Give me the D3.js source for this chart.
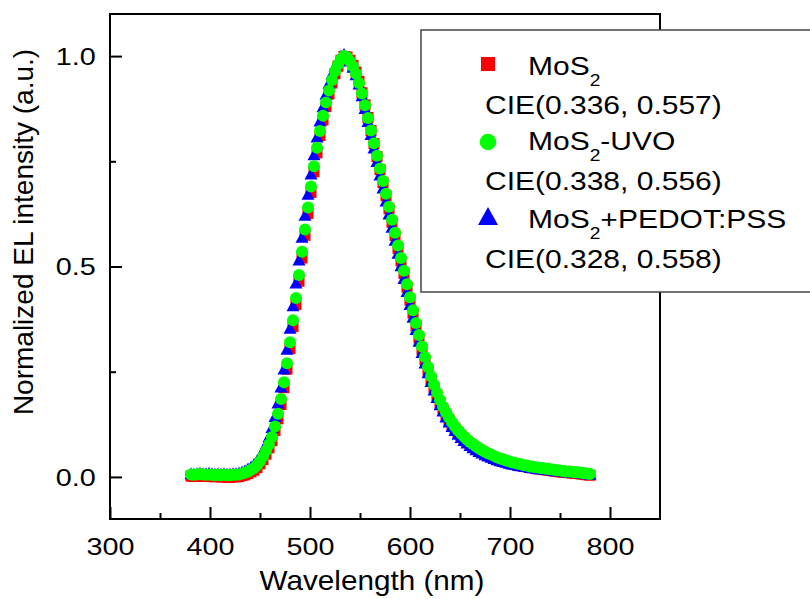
<!DOCTYPE html>
<meta charset="utf-8">
<script src="https://d3js.org/d3.v7.min.js"></script>
<style>
  body { margin: 0; background: #fff; }
  text { font-family: Arial, "Liberation Sans", sans-serif; fill: #000; }
</style>
<div id="chart"></div>
<script>

// wavelength (nm), sampled every 3 nm
var wavelength = [381, 384, 387, 390, 393, 396, 399, 402, 405, 408, 411, 414, 417, 420, 423, 426, 429, 432, 435, 438,
  441, 444, 447, 450, 453, 456, 459, 462, 465, 468, 471, 474, 477, 480, 483, 486, 489, 492, 495, 498,
  501, 504, 507, 510, 513, 516, 519, 522, 525, 528, 531, 534, 537, 540, 543, 546, 549, 552, 555, 558,
  561, 564, 567, 570, 573, 576, 579, 582, 585, 588, 591, 594, 597, 600, 603, 606, 609, 612, 615, 618,
  621, 624, 627, 630, 633, 636, 639, 642, 645, 648, 651, 654, 657, 660, 663, 666, 669, 672, 675, 678,
  681, 684, 687, 690, 693, 696, 699, 702, 705, 708, 711, 714, 717, 720, 723, 726, 729, 732, 735, 738,
  741, 744, 747, 750, 753, 756, 759, 762, 765, 768, 771, 774, 777, 780];

// MoS2
var mos2 = [.002, .001, .002, .002, .001, .001, .002, .001, .000, .001, .000, .000, -.001, -.001, .000, .000, .001, .003, .005, .008,
  .012, .016, .022, .031, .041, .054, .069, .086, .110, .138, .172, .212, .256, .305, .357, .410, .465, .520, .574, .626,
  .676, .725, .770, .811, .848, .880, .910, .936, .958, .976, .990, .999, .998, .990, .978, .962, .940, .913, .884, .854,
  .823, .792, .761, .730, .699, .668, .637, .605, .574, .543, .513, .483, .451, .420, .389, .359, .330, .303, .278, .254,
  .232, .212, .194, .177, .161, .147, .135, .124, .115, .106, .098, .091, .084, .078, .073, .068, .064, .060, .056, .052,
  .049, .046, .043, .041, .038, .036, .034, .032, .030, .028, .027, .025, .024, .023, .022, .020, .019, .018, .017, .016,
  .015, .014, .013, .012, .011, .011, .010, .009, .008, .008, .007, .006, .005, .004];

// MoS2-UVO
var mos2Uvo = [.006, .005, .006, .007, .006, .005, .006, .005, .004, .005, .004, .005, .004, .004, .005, .005, .006, .008, .010, .013,
  .017, .021, .028, .037, .048, .062, .077, .095, .120, .150, .185, .225, .270, .320, .372, .425, .480, .535, .588, .640,
  .690, .738, .782, .822, .858, .890, .918, .943, .964, .980, .992, 1.000, .997, .988, .975, .958, .936, .911, .883, .853,
  .823, .793, .763, .733, .703, .673, .642, .611, .580, .550, .520, .490, .458, .427, .396, .366, .337, .310, .285, .261,
  .239, .219, .200, .183, .167, .153, .141, .130, .120, .111, .103, .096, .089, .083, .078, .073, .068, .064, .060, .056,
  .053, .050, .047, .044, .042, .039, .037, .035, .033, .031, .030, .028, .027, .025, .024, .023, .022, .021, .020, .019,
  .018, .017, .016, .015, .014, .013, .013, .012, .011, .011, .010, .009, .008, .007];

// MoS2+PEDOT:PSS
var mos2Pedot = [.004, .003, .004, .005, .004, .004, .005, .004, .003, .004, .003, .004, .003, .003, .004, .004, .006, .008, .011, .015,
  .020, .026, .034, .045, .058, .074, .092, .114, .140, .172, .210, .253, .300, .350, .403, .457, .512, .566, .618, .668,
  .716, .762, .804, .842, .876, .906, .932, .954, .972, .986, .996, 1.000, .995, .985, .970, .952, .930, .902, .872, .841,
  .810, .778, .746, .714, .683, .652, .621, .590, .559, .528, .498, .468, .437, .406, .376, .347, .319, .292, .267, .244,
  .223, .203, .185, .168, .153, .139, .127, .116, .107, .098, .090, .083, .077, .071, .066, .061, .057, .053, .049, .046,
  .043, .040, .037, .035, .033, .031, .029, .027, .026, .024, .023, .022, .021, .019, .018, .017, .016, .016, .015, .014,
  .013, .012, .011, .011, .010, .009, .009, .008, .007, .007, .006, .005, .004, .003];

var xMajor = [300, 400, 500, 600, 700, 800];
var xMinor = [350, 450, 550, 650, 750];
var yMajor = [0.0, 0.5, 1.0];
var yMinor = [0.25, 0.75];

var legendNames = [["MoS", "2", ""], ["MoS", "2", "-UVO"], ["MoS", "2", "+PEDOT:PSS"]];
var legendCie = ["CIE(0.336, 0.557)", "CIE(0.338, 0.556)", "CIE(0.328, 0.558)"];

var margin = {top: 14, left: 110},
    width = 550,
    height = 505;

var svg = d3.select("#chart")
  .append("svg")
    .attr("width", 810)
    .attr("height", 599);

var x = d3.scaleLinear().domain([300, 850]).range([margin.left, margin.left + width]);
var y = d3.scaleLinear().domain([-0.1, 1.1]).range([margin.top + height, margin.top]);

// ticks, pointing inward
svg.append("g")
  .attr("transform", "translate(0," + (margin.top + height) + ")")
  .call(d3.axisBottom(x).tickValues(xMajor).tickSize(-12).tickFormat(d3.format("d")))
  .call(function(g) {
    g.select(".domain").remove();
    g.selectAll("line").attr("stroke-width", 2);
    g.selectAll("text")
      .attr("y", 36)
      .attr("dy", 0)
      .attr("transform", "scale(1.25,1)")
      .style("font-size", "23px");
  });

svg.append("g")
  .attr("transform", "translate(0," + (margin.top + height) + ")")
  .call(d3.axisBottom(x).tickValues(xMinor).tickSize(-6).tickFormat(""))
  .call(function(g) {
    g.select(".domain").remove();
    g.selectAll("line").attr("stroke-width", 2);
  });

svg.append("g")
  .attr("transform", "translate(" + margin.left + ",0)")
  .call(d3.axisLeft(y).tickValues(yMajor).tickSize(-12).tickFormat(d3.format(".1f")))
  .call(function(g) {
    g.select(".domain").remove();
    g.selectAll("line").attr("stroke-width", 2);
    g.selectAll("text")
      .attr("x", -11.5)
      .attr("dy", "0.36em")
      .attr("transform", "scale(1.25,1)")
      .style("font-size", "23px");
  });

svg.append("g")
  .attr("transform", "translate(" + margin.left + ",0)")
  .call(d3.axisLeft(y).tickValues(yMinor).tickSize(-6).tickFormat(""))
  .call(function(g) {
    g.select(".domain").remove();
    g.selectAll("line").attr("stroke-width", 2);
  });

// frame
svg.append("rect")
  .attr("x", margin.left)
  .attr("y", margin.top)
  .attr("width", width)
  .attr("height", height)
  .attr("fill", "none")
  .attr("stroke", "#000")
  .attr("stroke-width", 2);

// axis titles
svg.append("text")
  .attr("transform", "translate(372,590) scale(1.06,1)")
  .attr("text-anchor", "middle")
  .style("font-size", "28px")
  .text("Wavelength (nm)");

svg.append("text")
  .attr("transform", "translate(33,232) rotate(-90)")
  .attr("text-anchor", "middle")
  .style("font-size", "28px")
  .text("Normalized EL intensity (a.u.)");

function triangle(w, h) {
  return "M0," + (-h * 2 / 3) + "L" + (w / 2) + "," + (h / 3) + "L" + (-w / 2) + "," + (h / 3) + "Z";
}

// data
var plot = svg.append("g");

plot.selectAll(".sq")
  .data(wavelength)
  .enter()
  .append("rect")
    .attr("x", function(d) { return x(d) - 5.5; })
    .attr("y", function(d, i) { return y(mos2[i]) - 5.5; })
    .attr("width", 11)
    .attr("height", 11)
    .attr("fill", "#ff0000");

plot.selectAll(".tri")
  .data(wavelength)
  .enter()
  .append("path")
    .attr("transform", function(d, i) { return "translate(" + x(d) + "," + y(mos2Pedot[i]) + ")"; })
    .attr("d", triangle(13, 12))
    .attr("fill", "#0000ff");

plot.selectAll(".dot")
  .data(wavelength)
  .enter()
  .append("circle")
    .attr("cx", function(d) { return x(d); })
    .attr("cy", function(d, i) { return y(mos2Uvo[i]); })
    .attr("r", 6)
    .attr("fill", "#00ff00");

// legend
var legend = svg.append("g");

legend.append("rect")
  .attr("x", 421)
  .attr("y", 30)
  .attr("width", 400)
  .attr("height", 262)
  .attr("fill", "#fff")
  .attr("stroke", "#444")
  .attr("stroke-width", 1.5);

var rowY = [75, 150, 228];
var cieY = [114, 190, 268];
var markerY = [64, 142, 218];

legend.append("rect")
  .attr("x", 481).attr("y", markerY[0] - 7)
  .attr("width", 14).attr("height", 14)
  .attr("fill", "#ff0000");

legend.append("circle")
  .attr("cx", 488).attr("cy", markerY[1])
  .attr("r", 8.3)
  .attr("fill", "#00ff00");

legend.append("path")
  .attr("transform", "translate(488," + (markerY[2] + 1) + ")")
  .attr("d", triangle(20, 18))
  .attr("fill", "#0000ff");

legendNames.forEach(function(n, i) {
  var t = legend.append("text")
    .attr("transform", "translate(528," + rowY[i] + ") scale(1.2,1)")
    .style("font-size", "25px");
  t.append("tspan").text(n[0]);
  t.append("tspan").attr("dy", 11).style("font-size", "16px").text(n[1]);
  if (n[2]) t.append("tspan").attr("dy", -11).text(n[2]);

  legend.append("text")
    .attr("transform", "translate(485," + cieY[i] + ") scale(1.2,1)")
    .style("font-size", "25px")
    .text(legendCie[i]);
});

</script>
